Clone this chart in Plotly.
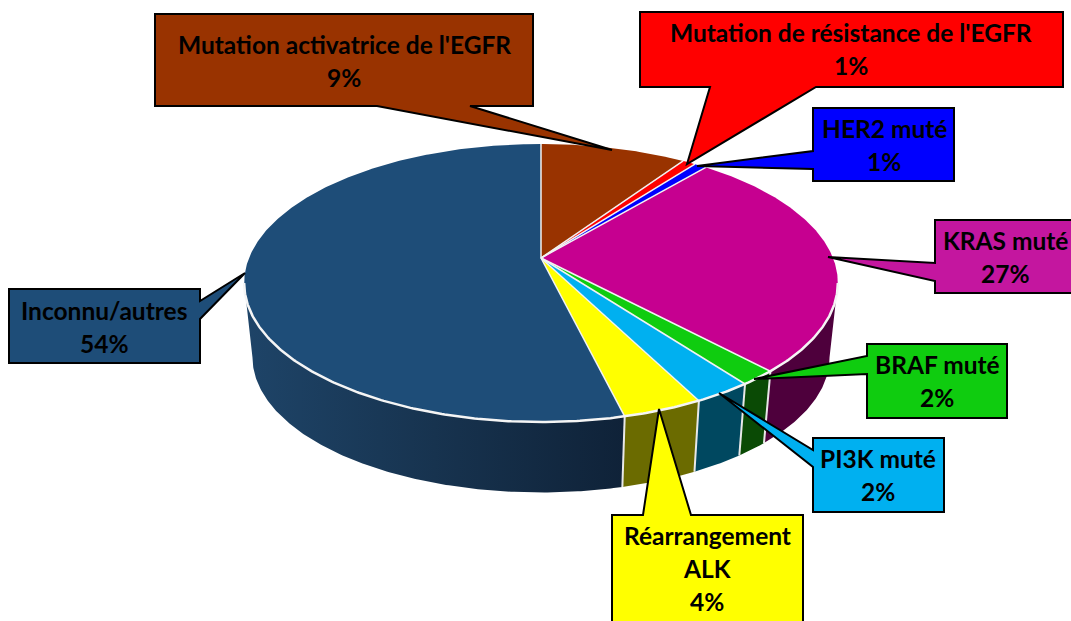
import numpy as np
import plotly.graph_objects as go

# parts de chaque secteur, sens horaire depuis le haut
categories = ["Mutation activatrice de l'EGFR", "Mutation de résistance de l'EGFR", "HER2 muté", "KRAS muté",
              "BRAF muté", "PI3K muté", "Réarrangement ALK", "Inconnu/autres"]
valeurs = [9.45, 0.85, 0.8, 26.95, 1.75, 2.7, 3.7, 53.8]
pourcentages = ["9%", "1%", "1%", "27%", "2%", "2%", "4%", "54%"]

couleurs = ["#993300", "#FF0000", "#0000FF", "#C60090", "#0FCC0F", "#00B0F0", "#FFFF00", "#1E4D78"]
couleurs_boite = ["#993300", "#FF0000", "#0000FF", "#C4169F", "#0FCC0F", "#00B0F0", "#FFFF00", "#1E4D78"]
couleurs_flanc = {3: "#4E003C", 4: "#0A4A05", 5: "#004860", 6: "#6B6B00"}

# camembert en perspective (repere en pixels de la page)
CX, CY, R, S, PERSP = 541, 258, 292, 134.5, 0.18
ECHELLE_BAS, DECALAGE_BAS = 0.972, 75
THETA_MIN = np.degrees(np.arccos(-PERSP))  # bords de la silhouette
THETA_MAX = 360 - THETA_MIN


def projette(theta, bas=False):
    t = np.radians(theta)
    w = 1 + PERSP * np.cos(t)
    x = R * np.sin(t) / w
    y = -S * np.cos(t) / w
    if bas:
        return CX + ECHELLE_BAS * x, CY + ECHELLE_BAS * y + DECALAGE_BAS
    return CX + x, CY + y


def arc(a, b, bas=False):
    n = max(int(abs(b - a) * 2), 2)
    return projette(np.linspace(a, b, n), bas)


bornes = np.concatenate([[0], np.cumsum(valeurs)]) * 360 / sum(valeurs)

fig = go.Figure()

# flancs visibles
for i, (a, b) in enumerate(zip(bornes[:-1], bornes[1:])):
    a2, b2 = max(a, THETA_MIN), min(b, THETA_MAX)
    if b2 <= a2:
        continue
    xh, yh = arc(a2, b2)
    xb, yb = arc(b2, a2, bas=True)
    trace = dict(x=np.concatenate([xh, xb]), y=np.concatenate([yh, yb]), mode="lines", fill="toself",
                 line=dict(width=0), hoverinfo="skip", showlegend=False)
    if i == 7:
        trace["fillgradient"] = dict(type="horizontal",
                                     colorscale=[[0, "#1E4468"], [0.5, "#17334F"], [1, "#0F2238"]])
    else:
        trace["fillcolor"] = couleurs_flanc.get(i, couleurs[i])
    fig.add_trace(go.Scatter(**trace))

# separations blanches des flancs
for a in bornes[4:8]:
    x1, y1 = projette(a)
    x2, y2 = projette(a, bas=True)
    fig.add_trace(go.Scatter(x=[x1, x2], y=[y1, y2], mode="lines", line=dict(color="#E8E8E8", width=2),
                             hoverinfo="skip", showlegend=False))

# face superieure
for i, (a, b) in enumerate(zip(bornes[:-1], bornes[1:])):
    xa, ya = arc(a, b)
    fig.add_trace(go.Scatter(x=np.concatenate([[CX], xa, [CX]]), y=np.concatenate([[CY], ya, [CY]]),
                             mode="lines", fill="toself", fillcolor=couleurs[i], line=dict(width=0),
                             name=categories[i], text=f"{categories[i]} {pourcentages[i]}", hoverinfo="text",
                             showlegend=False))

# rayons et bord avant en blanc
for a in bornes[:-1]:
    x1, y1 = projette(a)
    fig.add_trace(go.Scatter(x=[CX, x1], y=[CY, y1], mode="lines", line=dict(color="#F2F2F2", width=1.5),
                             hoverinfo="skip", showlegend=False))
xr, yr = arc(THETA_MIN, THETA_MAX)
fig.add_trace(go.Scatter(x=xr, y=yr, mode="lines", line=dict(color="#F5F5F5", width=2.5),
                         hoverinfo="skip", showlegend=False))

# bulles : rectangle (x0, y0, x1, y1), cote de la pointe, base de la pointe, extremite
bulles = [
    ((155, 14, 533, 106), "bas", (377, 470), (612, 150)),
    ((640, 12, 1063, 87), "bas", (710, 816), (687, 164)),
    ((813, 108, 954, 181), "gauche", (151, 169), (697, 166)),
    ((935, 220, 1078, 293), "gauche", (263, 281), (828, 257)),
    ((867, 344, 1007, 418), "gauche", (356, 374), (754, 379)),
    ((813, 438, 944, 512), "gauche", (450, 467), (719, 393)),
    ((612, 515, 803, 640), "haut", (643, 691), (659, 409)),
    ((9, 289, 200, 363), "droite", (301, 319), (245, 273)),
]
lignes_texte = [
    (["Mutation activatrice de l'EGFR"], 344, 44),
    (["Mutation de résistance de l'EGFR"], 851, 32),
    (["HER2 muté"], 884, 128),
    (["KRAS muté"], 1005, 240),
    (["BRAF muté"], 937, 364),
    (["PI3K muté"], 878, 458),
    (["Réarrangement", "ALK"], 707, 535),
    (["Inconnu/autres"], 104, 310),
]

for i, ((x0, y0, x1, y1), cote, base, bout) in enumerate(bulles):
    if cote == "bas":
        pts = [(x0, y0), (x1, y0), (x1, y1), (base[1], y1), bout, (base[0], y1), (x0, y1)]
    elif cote == "haut":
        pts = [(x0, y0), (base[0], y0), bout, (base[1], y0), (x1, y0), (x1, y1), (x0, y1)]
    elif cote == "gauche":
        pts = [(x0, y0), (x1, y0), (x1, y1), (x0, y1), (x0, base[1]), bout, (x0, base[0])]
    else:
        pts = [(x0, y0), (x1, y0), (x1, base[0]), bout, (x1, base[1]), (x1, y1), (x0, y1)]
    chemin = "M " + " L ".join(f"{px},{py}" for px, py in pts) + " Z"
    fig.add_shape(type="path", path=chemin, fillcolor=couleurs_boite[i], line=dict(color="black", width=2),
                  xref="x", yref="y", layer="above")

    lignes, xt, yt = lignes_texte[i]
    for j, texte in enumerate(lignes + [pourcentages[i]]):
        fig.add_annotation(x=xt, y=yt + j * 33, text=f"<b>{texte}</b>", showarrow=False, xanchor="center",
                           yanchor="middle", font=dict(family="Lato, Carlito, sans-serif", size=24.5, color="black"))

fig.update_layout(
    width=1071, height=621,
    margin=dict(l=0, r=0, t=0, b=0),
    paper_bgcolor="white", plot_bgcolor="white",
    showlegend=False,
    xaxis=dict(range=[0, 1071], visible=False, fixedrange=True),
    yaxis=dict(range=[621, 0], visible=False, fixedrange=True),
)

# la page ajoute 8 px de marge par defaut
fig.write_html("out.html", config=dict(displayModeBar=False),
               post_script="document.body.style.margin='0';document.documentElement.style.overflow='hidden';")
